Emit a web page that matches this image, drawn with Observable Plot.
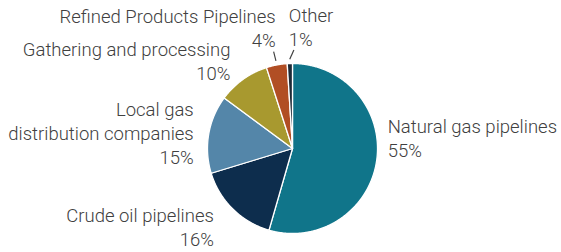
<!DOCTYPE html>
<html>
<head>
<meta charset="utf-8">
<script src="https://cdn.jsdelivr.net/npm/d3@7"></script>
<script src="https://cdn.jsdelivr.net/npm/@observablehq/plot@0.6"></script>
<style>
  html, body { margin: 0; padding: 0; background: #fff; }
  #chart svg { display: block; }
</style>
</head>
<body>
<div id="chart"></div>
<script>
// ---- data ----
const categories = [
  "Natural gas pipelines",
  "Crude oil pipelines",
  "Local gas\ndistribution companies",
  "Gathering and processing",
  "Refined Products Pipelines",
  "Other"
];
const shares = [55, 16, 15, 10, 4, 1];
const colors = ["#10758a", "#0d2d4d", "#5486a9", "#a8992f", "#b14e24", "#1e2b37"];

// ---- label layout (pixel nudges from slice edge) ----
const labelLayout = [
  {dx: 11, dy: -23, anchor: "start"},
  {dx: -19, dy: 17, anchor: "end"},
  {dx: -15, dy: -1.5, anchor: "end"},
  {dx: -12.5, dy: -19, anchor: "end"},
  {dx: -1, dy: -38, anchor: "end"},
  {dx: -1, dy: -37, anchor: "start"}
];
// leader lines: slice index and angular tilt of the outer end (radians)
const leaderLayout = [{i: 4, tilt: -0.006}, {i: 5, tilt: 0.045}];

const rows = categories.map((c, i) => ({name: c, share: shares[i], i}));
const arcs = d3.pie().sort(null).value(d => d.share)(rows);

// polygon points for each slice (unit circle, y up)
const pts = [];
for (const a of arcs) {
  const n = Math.max(2, Math.ceil((a.endAngle - a.startAngle) / (Math.PI / 360)));
  pts.push({name: a.data.name, x: 0, y: 0});
  for (let k = 0; k <= n; k++) {
    const t = a.startAngle + (a.endAngle - a.startAngle) * k / n;
    pts.push({name: a.data.name, x: Math.sin(t), y: Math.cos(t)});
  }
  pts.push({name: a.data.name, x: 0, y: 0});
}

const labels = arcs.map(a => {
  const m = (a.startAngle + a.endAngle) / 2;
  const L = labelLayout[a.data.i];
  return {
    x: Math.sin(m), y: Math.cos(m),
    text: a.data.name + "\n" + a.data.share + "%",
    dx: L.dx, dy: L.dy, anchor: L.anchor
  };
});

const leaders = leaderLayout.map(({i, tilt}) => {
  const a = arcs[i];
  const m = (a.startAngle + a.endAngle) / 2;
  const m2 = m + tilt;
  return {x1: Math.sin(m) * 1.05, y1: Math.cos(m) * 1.05, x2: Math.sin(m2) * 1.16, y2: Math.cos(m2) * 1.16};
});

const textMarks = labels.map(l => Plot.text([l], {
  x: "x", y: "y", text: "text",
  dx: l.dx, dy: l.dy, textAnchor: l.anchor, lineAnchor: "middle",
  lineHeight: 1.29, fontSize: 18.5, fontWeight: 300,
  fontFamily: "Roboto, 'Liberation Sans', sans-serif", fill: "#404040"
}));

const chart = Plot.plot({
  width: 561,
  height: 252,
  margin: 0,
  x: {domain: [-1, 1], range: [207, 377], axis: null},
  y: {domain: [-1, 1], range: [233, 63], axis: null},
  color: {domain: categories, range: colors},
  marks: [
    Plot.line(pts, {x: "x", y: "y", z: "name", fill: "name", stroke: "#fff", strokeWidth: 1.3, curve: "linear"}),
    Plot.link(leaders, {x1: "x1", y1: "y1", x2: "x2", y2: "y2", stroke: "#404040", strokeWidth: 1.2}),
    ...textMarks
  ]
});
document.getElementById("chart").appendChild(chart);
</script>
</body>
</html>
